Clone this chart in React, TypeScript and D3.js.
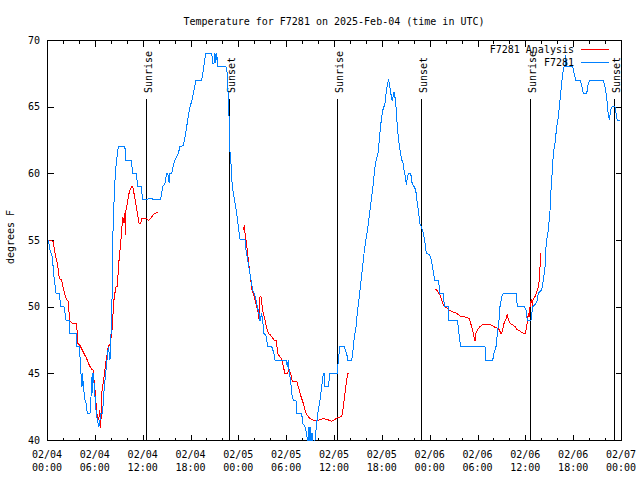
import React from "react";
import * as d3 from "d3";

const TITLE = "Temperature for F7281 on 2025-Feb-04 (time in UTC)";
const Y_LABEL = "degrees F";
const SERIES_NAMES = ["F7281 Analysis", "F7281"];
const SERIES_COLORS = ["#ff0000", "#0080ff"];
const START_MS = Date.UTC(2025, 1, 4, 0, 0);
const SPAN_HOURS = 72;
const Y_DOMAIN: [number, number] = [40, 70];
const Y_TICKS = [40, 45, 50, 55, 60, 65, 70];

// hours after 2025-02-04 00:00 UTC
const SUNRISE_HOURS = [12.46, 36.41, 60.55];
const SUNSET_HOURS = [22.87, 46.95, 71.09];

// observed temperature (hour, degF)
const OBSERVED: [number, number][] = [
  [0.16, 55], [0.38, 54.25], [0.59, 53.9], [0.71, 53.5], [0.79, 52.75], [0.92, 52], [1.13, 51], [1.54, 51],
  [1.63, 50.5], [1.72, 50], [2.13, 50], [2.26, 49.5], [2.38, 49], [2.76, 49], [2.8, 48], [3.64, 48],
  [3.73, 47], [4.05, 47], [4.14, 46.25], [4.26, 45], [4.39, 44], [4.48, 45], [4.55, 44], [4.77, 43],
  [4.89, 42.8], [5.06, 42], [5.39, 42], [5.48, 42.75], [5.61, 44.4], [5.68, 45], [5.73, 43.5], [5.81, 45],
  [5.93, 44], [6.15, 42.25], [6.31, 41.5], [6.52, 41], [6.65, 41.5], [6.77, 42], [6.99, 42], [7.06, 43],
  [7.19, 44], [7.36, 45], [7.49, 45.75], [7.61, 46.5], [7.69, 47], [7.81, 46.5], [7.9, 46], [7.99, 46.75],
  [8.03, 48], [8.12, 49], [8.19, 52], [8.24, 55], [8.4, 57.75], [8.53, 59.5], [8.66, 60.6], [8.82, 61.4],
  [8.94, 62], [9.78, 62], [9.82, 61], [10.62, 61], [10.7, 60], [11.25, 60], [11.33, 59], [11.88, 59],
  [11.95, 58], [12.92, 58.1], [14.17, 58], [14.3, 58.25], [14.51, 59], [14.8, 59.25], [15.02, 60], [15.14, 60],
  [15.34, 59.25], [15.43, 60], [15.64, 60], [15.72, 60.25], [15.84, 60.6], [16.06, 61], [16.47, 61.5], [16.68, 62],
  [17.1, 62.1], [17.31, 62.75], [17.52, 63.5], [17.72, 64.25], [17.94, 65], [18.15, 65.4], [18.35, 66], [18.69, 67],
  [19.41, 67], [19.61, 67.75], [19.73, 68.25], [19.91, 69], [20.66, 69], [20.79, 68.25], [20.95, 68.25], [21.07, 69],
  [21.16, 68.25], [21.29, 69], [21.41, 68], [22.45, 68], [22.62, 67.5], [22.74, 65.5], [22.87, 63.75], [22.96, 61.5],
  [23.08, 60.75], [23.24, 59], [23.46, 58.25], [23.67, 57.5], [23.8, 57], [24.0, 56], [24.21, 55.05], [24.84, 55],
  [24.96, 54.25], [25.18, 53.5], [25.38, 52.75], [25.59, 52], [25.8, 51.25], [26.0, 51], [26.22, 50.5], [26.38, 50],
  [26.59, 49.5], [26.72, 48.9], [26.93, 49.5], [27.06, 48.9], [27.22, 48], [27.56, 47.75], [27.63, 47], [28.19, 47],
  [28.47, 46.5], [28.6, 46], [29.98, 46], [30.14, 45.5], [30.27, 46], [30.39, 45], [30.57, 44.4], [30.69, 43.5],
  [30.9, 43], [31.23, 43], [31.32, 42], [31.95, 42], [32.07, 41.25], [32.36, 41], [32.58, 40.5], [32.7, 39.5],
  [32.78, 41], [32.87, 39], [32.99, 41], [33.12, 39], [33.24, 40.5], [33.4, 39.5], [33.62, 40], [33.96, 42],
  [34.24, 43], [34.46, 44], [34.66, 45], [34.75, 45], [34.87, 44], [35.29, 44], [35.5, 45], [36.41, 45],
  [36.54, 46], [36.75, 47], [37.26, 47], [37.59, 46.5], [37.72, 46], [38.22, 46], [38.35, 46.5], [38.51, 47.5],
  [38.76, 48.5], [38.92, 49.5], [39.17, 50.75], [39.35, 51.75], [39.6, 53], [39.8, 54.2], [40.05, 55.2], [40.26, 56],
  [40.46, 57], [40.67, 58], [40.8, 58.6], [40.96, 59.4], [41.09, 60.25], [41.3, 61], [41.52, 61.5], [41.64, 62.25],
  [41.8, 63.25], [41.93, 64], [42.05, 64.5], [42.22, 65], [42.35, 65], [42.56, 66.1], [42.69, 66.6], [42.85, 67.05],
  [42.98, 66.5], [43.06, 66.3], [43.19, 65.75], [43.31, 65.4], [43.4, 65.75], [43.53, 66.1], [43.61, 65.9], [43.69, 65.5],
  [43.82, 64.75], [43.94, 63.5], [44.11, 62.5], [44.28, 61.75], [44.45, 61.1], [44.66, 60.75], [44.79, 60.25], [44.95, 59.75],
  [45.08, 59.1], [45.2, 59.75], [45.37, 60], [45.62, 60], [45.8, 59.25], [46.05, 59], [46.25, 58.75], [46.42, 57.9],
  [46.62, 57.1], [46.75, 56.25], [46.96, 56], [47.17, 55.6], [47.37, 55], [47.58, 54], [47.99, 53.9], [48.21, 53.5],
  [48.42, 52.75], [48.62, 52], [49.12, 52], [49.25, 51], [49.67, 51], [49.87, 50], [50.33, 50], [50.42, 49],
  [51.47, 49], [51.59, 48.5], [51.72, 47.75], [51.89, 47], [54.94, 47], [55.03, 46], [55.91, 46], [56.07, 46.5],
  [56.32, 47], [56.49, 48], [56.7, 49], [56.82, 50], [57.04, 50.75], [57.24, 51], [58.83, 51], [59.0, 50],
  [59.87, 50], [60.09, 49.75], [60.25, 49], [60.71, 49], [60.93, 50], [61.34, 50.25], [61.5, 50.5], [61.63, 51],
  [62.05, 51.25], [62.26, 52], [62.47, 53], [62.56, 54.25], [62.68, 55], [62.89, 55.75], [63.1, 57.25], [63.22, 58.75],
  [63.39, 60.25], [63.51, 61.5], [63.72, 62.25], [63.94, 63.5], [64.14, 64.25], [64.26, 65], [64.48, 66.25], [64.69, 67.5],
  [64.85, 68], [65.02, 68], [65.07, 68.9], [65.14, 68], [65.94, 68], [66.11, 67.5], [66.32, 67], [66.86, 67],
  [67.07, 66.6], [67.27, 66], [67.7, 66], [67.9, 66.75], [68.11, 67], [69.78, 67], [69.99, 66.5], [70.2, 65.75],
  [70.33, 64.75], [70.53, 64], [70.71, 64.75], [70.87, 65], [71.25, 65], [71.46, 64.25], [71.53, 64], [71.87, 64],
];

// analysis temperature, three separate runs (hour, degF)
const ANALYSIS_1: [number, number][] = [
  [0.16, 55], [0.79, 54.9], [0.92, 54.25], [1.09, 53.75], [1.29, 53.25], [1.42, 52.75], [1.54, 52.1], [1.84, 52],
  [2.04, 51.4], [2.26, 50.9], [2.47, 50.5], [2.67, 50.4], [2.76, 49.6], [2.89, 48.9], [3.22, 48.75], [3.73, 48.7],
  [3.85, 47.25], [4.14, 47.1], [4.55, 46.6], [4.98, 46.1], [5.31, 45.6], [5.61, 45.3], [5.81, 45.25], [5.9, 44.5],
  [6.02, 43.75], [6.15, 42.75], [6.31, 41.75], [6.49, 41.5], [6.61, 42.25], [6.74, 40.9], [6.8, 42], [6.86, 43.5],
  [6.99, 44], [7.15, 44.75], [7.31, 45.5], [7.49, 46.25], [7.69, 47], [7.9, 47.2], [8.12, 48], [8.24, 48.9],
  [8.32, 50], [8.44, 50.75], [8.66, 51.5], [8.82, 51.5], [8.94, 52.75], [9.07, 53.75], [9.24, 54.75], [9.37, 55.75],
  [9.5, 56.75], [9.66, 56.25], [9.75, 57], [9.87, 55.4], [9.91, 57.25], [10.07, 57.75], [10.25, 58.4], [10.41, 58.75],
  [10.62, 59], [10.75, 59], [10.91, 58.5], [11.13, 57.75], [11.33, 57], [11.54, 56.25], [11.75, 56.2], [11.88, 56.6],
  [12.51, 56.6], [12.71, 56.45], [13.01, 56.6], [13.33, 56.9], [13.89, 57.1],
];
const ANALYSIS_2: [number, number][] = [
  [24.62, 55.75], [24.75, 56.1], [24.84, 55.5], [24.96, 55], [25.13, 54.25], [25.25, 53.5], [25.38, 52.9], [25.55, 52],
  [25.72, 51.25], [25.88, 51], [26.09, 50.5], [26.3, 50], [26.51, 49.5], [26.63, 48.9], [26.72, 50.75], [26.84, 50.75],
  [26.93, 50.25], [27.13, 49.5], [27.35, 49], [27.56, 48.4], [27.76, 48], [27.97, 47.9], [28.19, 47.75], [28.47, 47.5],
  [28.81, 47.5], [28.89, 46.5], [29.14, 46.3], [29.44, 46.1], [29.64, 45.5], [29.85, 45], [30.14, 45], [30.39, 45.25],
  [30.57, 45], [30.77, 44.4], [31.32, 44.4], [31.52, 44], [31.74, 43.5], [31.95, 43.1], [32.15, 42.75], [32.36, 42.25],
  [32.58, 41.9], [32.99, 41.6], [33.4, 41.5], [33.83, 41.4], [34.24, 41.55], [34.66, 41.6], [35.09, 41.55], [35.71, 41.4],
  [36.13, 41.55], [36.54, 41.7], [36.97, 41.75], [37.17, 42.5], [37.38, 43.5], [37.59, 44.5], [37.72, 45], [37.92, 45],
];
const ANALYSIS_3: [number, number][] = [
  [48.67, 51.3], [48.88, 51.25], [49.08, 51.05], [49.3, 50.9], [49.51, 50.5], [49.71, 50.1], [50.14, 49.9], [50.55, 49.7],
  [50.97, 49.6], [51.39, 49.5], [51.81, 49.3], [52.22, 49.25], [52.65, 49.2], [52.97, 49.1], [53.27, 48.5], [53.47, 48],
  [53.69, 47.4], [53.81, 48], [53.98, 48.25], [54.31, 48.5], [54.73, 48.7], [55.23, 48.7], [55.78, 48.6], [56.2, 48.45],
  [56.49, 48.4], [56.74, 48.25], [56.95, 47.95], [57.16, 48.25], [57.33, 48.75], [57.58, 49.1], [57.74, 49.45], [57.87, 49],
  [58.08, 48.75], [58.49, 48.6], [58.71, 48.5], [58.92, 48.3], [59.25, 48.2], [59.55, 48.05], [59.84, 48], [60.0, 48],
  [60.17, 48.5], [60.3, 49.1], [60.38, 49.5], [60.46, 49.2], [60.59, 50], [60.71, 50.4], [60.8, 50.5], [60.88, 50],
  [60.96, 50.5], [61.21, 50.75], [61.43, 51.1], [61.63, 51.5], [61.75, 52], [61.84, 53], [61.93, 54],
];
const ANALYSIS_RUNS = [ANALYSIS_1, ANALYSIS_2, ANALYSIS_3];

const FONT = "'DejaVu Sans Mono', 'Liberation Mono', monospace";

const toDate = (h: number) => new Date(START_MS + h * 3600e3);

export default function App() {
  const W = 640, H = 480;
  const L = 47, R = 621, T = 40, B = 440;
  const x = d3.scaleUtc().domain([toDate(0), toDate(SPAN_HOURS)]).range([L, R]);
  const y = d3.scaleLinear().domain(Y_DOMAIN).range([B, T]);
  const line = d3.line<[number, number]>().x((d) => x(toDate(d[0]))).y((d) => y(d[1]));

  const major = x.ticks(d3.utcHour.every(6)!);
  const minor = x.ticks(d3.utcHour.every(2)!);
  const fmtDay = d3.utcFormat("%m/%d");
  const fmtTime = d3.utcFormat("%H:%M");
  const px = (v: number) => Math.round(v) + 0.5;

  const tickLines: JSX.Element[] = [];
  minor.forEach((d, i) => {
    const isMajor = major.some((m) => +m === +d);
    const len = isMajor ? 6 : 3;
    const xx = px(x(d));
    tickLines.push(<line key={"b" + i} x1={xx} x2={xx} y1={B + 0.5} y2={B + 0.5 - len} />);
    tickLines.push(<line key={"t" + i} x1={xx} x2={xx} y1={T + 0.5} y2={T + 0.5 + len} />);
  });
  Y_TICKS.forEach((v, i) => {
    const yy = px(y(v));
    tickLines.push(<line key={"l" + i} x1={L + 0.5} x2={L + 6.5} y1={yy} y2={yy} />);
    tickLines.push(<line key={"r" + i} x1={R + 0.5} x2={R - 5.5} y1={yy} y2={yy} />);
  });

  const sunLines = [
    ...SUNRISE_HOURS.map((h) => ({ h, label: "Sunrise" })),
    ...SUNSET_HOURS.map((h) => ({ h, label: "Sunset" })),
  ];

  return (
    <svg
      width={W}
      height={H}
      viewBox={`0 0 ${W} ${H}`}
      style={{ position: "fixed", left: 0, top: 0, background: "#fff", display: "block" }}
      fontFamily={FONT}
      fontSize={10}
    >
      <rect x={0} y={0} width={W} height={H} fill="#fff" />
      <defs>
        <clipPath id="plotclip">
          <rect x={L} y={T} width={R - L + 1} height={B - T + 1} />
        </clipPath>
      </defs>

      <text x={(L + R) / 2} y={24.5} textAnchor="middle" fill="#000">{TITLE}</text>

      <text transform={`translate(14,237) rotate(-90)`} textAnchor="middle" fill="#000">{Y_LABEL}</text>

      {Y_TICKS.map((v) => (
        <text key={v} x={40} y={y(v) + 3.7} textAnchor="end" fill="#000">{v}</text>
      ))}

      {major.map((d, i) => (
        <g key={i}>
          <text x={x(d)} y={458} textAnchor="middle" fill="#000">{fmtDay(d)}</text>
          <text x={x(d)} y={470.5} textAnchor="middle" fill="#000">{fmtTime(d)}</text>
        </g>
      ))}

      <g stroke="#000" strokeWidth={1} shapeRendering="crispEdges">
        {tickLines}
        <rect x={L + 0.5} y={T + 0.5} width={R - L} height={B - T} fill="none" />
      </g>

      {sunLines.map((s, i) => {
        const xx = px(x(toDate(s.h)));
        return (
          <g key={"s" + i}>
            <line x1={xx} x2={xx} y1={99} y2={B} stroke="#000" strokeWidth={1} shapeRendering="crispEdges" />
            <text transform={`translate(${xx + 5.5},93) rotate(-90)`} textAnchor="start" fill="#000">{s.label}</text>
          </g>
        );
      })}

      <g clipPath="url(#plotclip)" fill="none" strokeWidth={1} shapeRendering="crispEdges">
        {ANALYSIS_RUNS.map((run, i) => (
          <path key={"a" + i} d={line(run) || ""} stroke={SERIES_COLORS[0]} />
        ))}
        <path d={line(OBSERVED) || ""} stroke={SERIES_COLORS[1]} />
      </g>

      {SERIES_NAMES.map((name, i) => {
        const cy = 49.5 + i * 13;
        return (
          <g key={name}>
            <text x={574} y={cy + 3.7} textAnchor="end" fill="#000">{name}</text>
            <line x1={581} x2={609} y1={cy} y2={cy} stroke={SERIES_COLORS[i]} strokeWidth={1} shapeRendering="crispEdges" />
          </g>
        );
      })}
    </svg>
  );
}
